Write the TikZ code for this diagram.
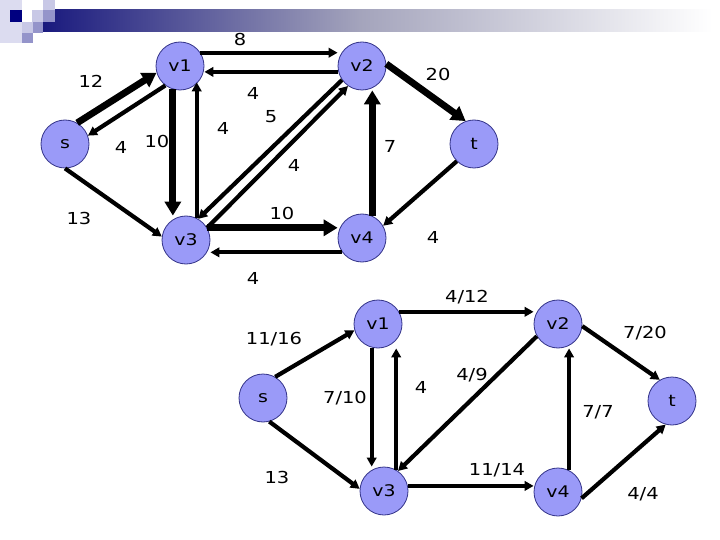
\documentclass[tikz,border=0pt]{standalone}
\usepackage{fontspec}
\setmainfont{DejaVu Sans}[FakeStretch=1.18]
\usetikzlibrary{arrows.meta}
\definecolor{nodefill}{HTML}{9A9AF8}
\definecolor{nodeline}{HTML}{333388}
\definecolor{navy}{HTML}{1A1A7E}
\definecolor{darknavy}{HTML}{000080}
\definecolor{midbar}{HTML}{A4A4BC}
\definecolor{palesq}{HTML}{DCDCF0}
\definecolor{lightsq}{HTML}{C8C8E6}
\definecolor{medsq}{HTML}{9494CA}
\tikzset{
  vert/.style={circle, fill=nodefill, draw=nodeline, line width=0.8pt, minimum size=48pt, inner sep=0pt, font=\fontsize{16}{16}\selectfont},
  lbl/.style={font=\fontsize{16.5}{16.5}\selectfont, inner sep=0pt},
  flowthin/.style={line width=4.2pt, -{Triangle[length=9pt,width=9.5pt]}},
  flowthick/.style={line width=6.8pt, -{Triangle[length=14pt,width=16pt]}},
}
\begin{document}
\begin{tikzpicture}[x=1pt,y=-1pt]
\useasboundingbox (0,0) rectangle (720,540);
% header decoration
\fill[palesq] (0,0) rectangle (22,43);
\shade[left color=navy, right color=midbar] (43,10) rectangle (360,32);
\shade[left color=midbar, right color=white] (360,10) rectangle (712,32);
\fill[white] (22,10) rectangle (32,22);
\fill[darknavy] (10,10) rectangle (22,22);
\fill[lightsq] (32,10) rectangle (43,22);
\fill[lightsq] (43,0) rectangle (55,10);
\fill[medsq] (43,10) rectangle (55,22);
\fill[lightsq] (22,22) rectangle (33,33);
\fill[medsq] (33,22) rectangle (43,33);
\fill[medsq] (22,33) rectangle (33,43);

% ---------- top graph ----------
\node[vert] (s)  at (65,144)  {s};
\node[vert] (a1) at (180,66)  {v1};
\node[vert] (a2) at (362,66)  {v2};
\node[vert] (t)  at (474,144) {t};
\node[vert] (a3) at (186,240) {v3};
\node[vert] (a4) at (362,238) {v4};

\draw[flowthick] (s.60) -- (a1.196);
\draw[flowthin] (a1.233) -- (s.20);
\draw[flowthick] (a1.253) -- (a1.253 |- a3.north);
\draw[flowthin] (a3.64) -- (a3.64 |- a1.318);
\draw[flowthin] (a1.33) -- (a1.33 -| a2.west);
\draw[flowthin] (a2.194) -- (a2.194 -| a1.east);
\draw[flowthin] (a2.215) -- (a3.60);
\draw[flowthin] (a3.30) -- (a2.235);
\draw[flowthick] (a3.30) -- (a3.30 -| a4.west);
\draw[flowthin] (a4.216) -- (a4.216 -| a3.east);
\draw[flowthick] (a4.65) -- (a4.65 |- a2.south);
\draw[flowthick] (a2.5) -- (t.110);
\draw[flowthin] (t.225) -- (a4.30);
\draw[flowthin] (s.270) -- (a3.172);

\node[lbl] (l1)  at (240,39)  {8};
\node[lbl] (l2)  at (91,81)   {12};
\node[lbl] (l3)  at (438,74)  {20};
\node[lbl] (l4)  at (253,93)  {4};
\node[lbl] (l5)  at (271,117) {5};
\node[lbl] (l6)  at (223,128) {4};
\node[lbl] (l7)  at (121,147) {4};
\node[lbl] (l8)  at (157,141) {10};
\node[lbl] (l9)  at (390,146) {7};
\node[lbl] (l10) at (294,165) {4};
\node[lbl] (l11) at (79,218)  {13};
\node[lbl] (l12) at (282,213) {10};
\node[lbl] (l13) at (433,237) {4};
\node[lbl] (l14) at (253,278) {4};

% ---------- bottom graph ----------
\node[vert] (bs) at (263,398) {s};
\node[vert] (b1) at (378,324) {v1};
\node[vert] (b2) at (558,324) {v2};
\node[vert] (bt) at (672,401) {t};
\node[vert] (b3) at (384,491) {v3};
\node[vert] (b4) at (558,492) {v4};

\draw[flowthin] (bs.60) -- (b1.195);
\draw[flowthin] (bs.285) -- (b3.175);
\draw[flowthin] (b1.255) -- (b1.255 |- b3.north);
\draw[flowthin] (b3.60) -- (b3.60 |- b1.south);
\draw[flowthin] (b1.30) -- (b1.30 -| b2.west);
\draw[flowthin] (b2.210) -- (b3.55);
\draw[flowthin] (b3.12) -- (b3.12 -| b4.west);
\draw[flowthin] (b4.63) -- (b4.63 |- b2.south);
\draw[flowthin] (b2.355) -- (bt.120);
\draw[flowthin] (b4.345) -- (bt.255);

\node[lbl] (m1)  at (274,339) {11/16};
\node[lbl] (m2)  at (467,297) {4/12};
\node[lbl] (m3)  at (645,333) {7/20};
\node[lbl] (m4)  at (345,398) {7/10};
\node[lbl] (m5)  at (421,387) {4};
\node[lbl] (m6)  at (472,375) {4/9};
\node[lbl] (m7)  at (598,412) {7/7};
\node[lbl] (m8)  at (277,477) {13};
\node[lbl] (m9)  at (497,470) {11/14};
\node[lbl] (m10) at (643,494) {4/4};
\end{tikzpicture}
\end{document}
